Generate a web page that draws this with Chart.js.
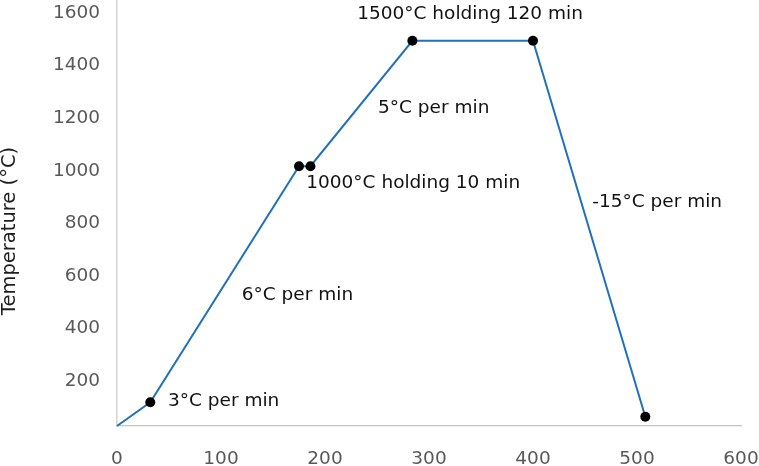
<!DOCTYPE html>
<html>
<head>
<meta charset="utf-8">
<script src="https://cdn.jsdelivr.net/npm/chart.js@4"></script>
<style>
  html, body { margin: 0; padding: 0; background: #ffffff; }
  #wrap { width: 759px; height: 466px; position: relative; }
</style>
</head>
<body>
<div id="wrap"><canvas id="c"></canvas></div>
<script>
// ---- data ----
const timeMin = [0, 32, 175, 186, 284, 400, 508];
const tempC   = [20, 110, 1008, 1008, 1485, 1485, 55];
const showMarker = [false, true, true, true, true, true, true];

const xTicks = [0, 100, 200, 300, 400, 500, 600];
const yTicks = [200, 400, 600, 800, 1000, 1200, 1400, 1600];

const noteText = ['3°C per min', '6°C per min', '1000°C holding 10 min', '5°C per min', '1500°C holding 120 min', '-15°C per min'];
const noteX = [49, 120, 182, 251, 231, 457];
const noteY = [115, 518, 944, 1230, 1586, 873];

const yTitle = 'Temperature (°C)';

// ---- styles ----
const FONT = 'DejaVu Sans';
const points = timeMin.map((t, i) => ({ x: t, y: tempC[i] }));

const notesPlugin = {
  id: 'notes',
  afterDatasetsDraw(chart) {
    const { ctx, scales } = chart;
    ctx.save();
    ctx.font = '18.5px "' + FONT + '"';
    ctx.fillStyle = '#111111';
    ctx.textAlign = 'left';
    ctx.textBaseline = 'middle';
    noteText.forEach((t, i) => {
      ctx.fillText(t, scales.x.getPixelForValue(noteX[i]), scales.y.getPixelForValue(noteY[i]));
    });
    ctx.restore();
  }
};

const yTitlePlugin = {
  id: 'ytitle',
  afterDraw(chart) {
    const { ctx } = chart;
    ctx.save();
    ctx.translate(10, 231);
    ctx.rotate(-Math.PI / 2);
    ctx.font = '19.5px "' + FONT + '"';
    ctx.fillStyle = '#1e1e1e';
    ctx.textAlign = 'center';
    ctx.textBaseline = 'middle';
    ctx.fillText(yTitle, 0, 0);
    ctx.restore();
  }
};

new Chart(document.getElementById('c'), {
  type: 'scatter',
  data: {
    datasets: [{
      data: points,
      showLine: true,
      borderColor: '#2171ba',
      borderWidth: 2,
      pointRadius: showMarker.map(m => m ? 5 : 0),
      pointHoverRadius: showMarker.map(m => m ? 5 : 0),
      pointBackgroundColor: '#000000',
      pointBorderWidth: 0,
      tension: 0,
      clip: false
    }]
  },
  options: {
    responsive: true,
    maintainAspectRatio: false,
    animation: false,
    devicePixelRatio: 1,
    layout: { autoPadding: false, padding: { left: 0, right: 18, top: 0, bottom: 0 } },
    plugins: { legend: { display: false }, tooltip: { enabled: false } },
    scales: {
      x: {
        type: 'linear',
        min: 0, max: 600,
        grid: { display: false, drawTicks: false },
        border: { display: true, color: '#c4c4c4', width: 1.3 },
        afterBuildTicks: s => { s.ticks = xTicks.map(v => ({ value: v })); },
        afterFit: s => { s.height = 40; s.paddingLeft = 0; s.paddingRight = 0; },
        ticks: { color: '#595959', font: { family: FONT, size: 18.5 }, padding: 22, maxRotation: 0, callback: v => String(v) }
      },
      y: {
        type: 'linear',
        min: 20, max: 1640,
        grid: { display: false, drawTicks: false },
        border: { display: true, color: '#d4d4d4', width: 1.5 },
        afterBuildTicks: s => { s.ticks = yTicks.map(v => ({ value: v })); },
        afterFit: s => { s.width = 117; s.paddingTop = 0; s.paddingBottom = 0; },
        ticks: { color: '#595959', font: { family: FONT, size: 18.5 }, padding: 17, labelOffset: 2.5, callback: v => String(v) }
      }
    }
  },
  plugins: [notesPlugin, yTitlePlugin]
});
</script>
</body>
</html>
